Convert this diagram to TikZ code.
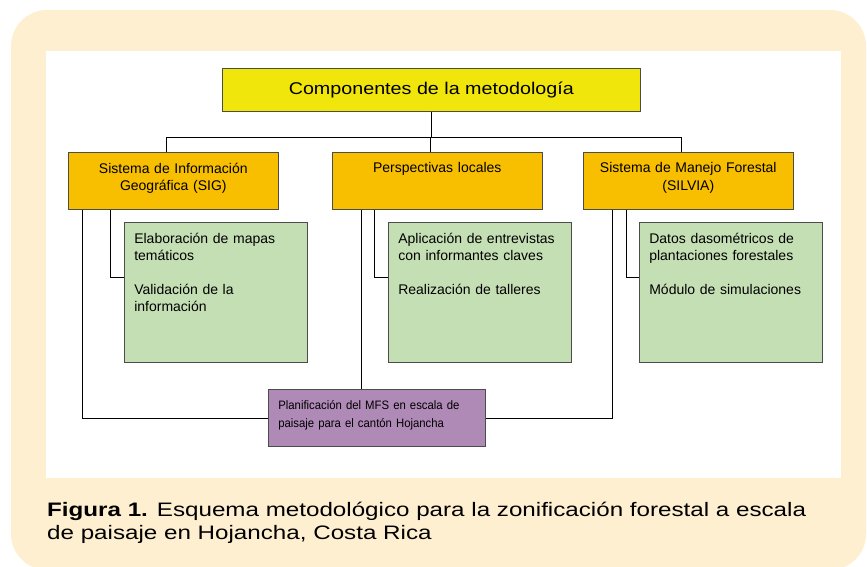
\documentclass[tikz,border=0pt]{standalone}
\usepackage{fontspec}
\setmainfont{Liberation Sans}
\newfontfamily\titlefont[FakeStretch=1.16]{Liberation Sans}
\newfontfamily\captionfont[FakeStretch=1.24]{Liberation Sans}
\newfontfamily\planfont[FakeStretch=0.93]{Liberation Sans}
\usetikzlibrary{calc,shadows}
\definecolor{panelbeige}{HTML}{FEEFD1}
\definecolor{titleyellow}{HTML}{F0E60C}
\definecolor{headorange}{HTML}{F8BF00}
\definecolor{itemgreen}{HTML}{C5DFB4}
\definecolor{planpurple}{HTML}{AF8AB7}
\newcommand{\topbox}[2]{\vbox to #1{#2\vfil}}

\begin{document}
\begin{tikzpicture}[x=1pt,y=-1pt,
    box/.style={draw=black!70,line width=0.6pt,anchor=north west,inner sep=0pt,
      drop shadow={shadow xshift=0.8pt,shadow yshift=-0.8pt,fill=black!55}},
    headbox/.style={box,fill=headorange,minimum width=210pt,minimum height=57pt,
      text width=200pt,align=center,font=\fontsize{14}{17.5}\selectfont},
    itembox/.style={box,fill=itemgreen,minimum width=183pt,minimum height=140pt,
      text width=163pt,align=left,font=\fontsize{14}{17}\selectfont},
    link/.style={line width=0.6pt}]
  \useasboundingbox (0,0) rectangle (867,567);
  % panel and white sheet
  \fill[panelbeige,rounded corners=36pt] (11,10) rectangle (866,570);
  \fill[white] (46,51) rectangle (841,478);
  % top box
  \node[box,fill=titleyellow,minimum width=418pt,minimum height=43pt,
    font=\titlefont\fontsize{17}{20}\selectfont] (title) at (222,68) {Componentes de la metodología};
  % the three components
  \node[headbox] (sig) at (68,152)
    {\topbox{36pt}{Sistema de Información\\Geográfica (SIG)}};
  \node[headbox] (local) at (332,152)
    {\topbox{36pt}{Perspectivas locales}};
  \node[headbox] (silvia) at (583,152)
    {\topbox{36pt}{Sistema de Manejo Forestal\\(SILVIA)}};
  % activities
  \node[itembox] (sigitems) at (124,222)
    {\topbox{118pt}{Elaboración de mapas\\temáticos\\[17pt]Validación de la\\información}};
  \node[itembox] (localitems) at (388,222)
    {\topbox{118pt}{Aplicación de entrevistas\\con informantes claves\\[17pt]Realización de talleres}};
  \node[itembox] (silviaitems) at (639,222)
    {\topbox{118pt}{Datos dasométricos de\\plantaciones forestales\\[17pt]Módulo de simulaciones}};
  % result
  \node[box,fill=planpurple,minimum width=217pt,minimum height=57pt,
    text width=197pt,align=left,font=\planfont\fontsize{12.2}{18}\selectfont] (plan) at (268,389)
    {\topbox{35pt}{Planificación del MFS en escala de\\paisaje para el cantón Hojancha}};
  % tree
  \coordinate (hub) at ($(title.south)+(0,26)$);
  \draw[link] (title.south) -- (hub);
  \draw[link] ([xshift=-7pt]sig.north) |- (hub) -| ([xshift=-7pt]silvia.north);
  \draw[link] ([xshift=-7pt]local.north) -- ([xshift=-7pt]local.north |- hub);
  \draw[link] ([xshift=42pt]sig.south west) |- ($(sigitems.north west)+(0,55)$);
  \draw[link] ([xshift=42pt]local.south west) |- ($(localitems.north west)+(0,55)$);
  \draw[link] ([xshift=43pt]silvia.south west) |- ($(silviaitems.north west)+(0,55)$);
  \draw[link] ([xshift=14pt]sig.south west) |- (plan.west);
  \draw[link] ([xshift=29pt]local.south west) -- ([xshift=29pt]local.south west |- plan.north);
  \draw[link] ([xshift=29pt]silvia.south west) |- (plan.east);
  % caption
  \node[anchor=north west,inner sep=0pt,align=left,
    font=\captionfont\fontsize{19.5}{23}\selectfont] (caption) at (47,502)
    {\textbf{Figura 1.} Esquema metodológico para la zonificación forestal a escala\\
     de paisaje en Hojancha, Costa Rica};
\end{tikzpicture}
\end{document}
